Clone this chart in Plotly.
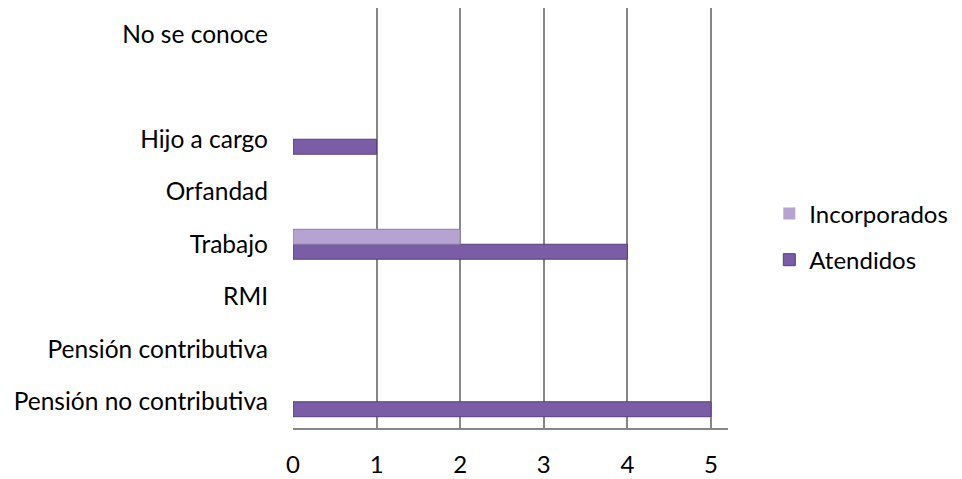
import plotly.graph_objects as go

categories = ["Pensión no contributiva", "Pensión contributiva", "RMI", "Trabajo",
              "Orfandad", "Hijo a cargo", " ", "No se conoce"]
atendidos = [5, 0, 0, 4, 0, 1, 0, 0]
incorporados = [0, 0, 0, 2, 0, 0, 0, 0]
x_ticks = [0, 1, 2, 3, 4, 5]


def edge_widths(values):
    return [1 if v > 0 else 0 for v in values]


fig = go.Figure()
fig.add_trace(go.Bar(
    y=categories, x=atendidos, orientation="h", name="Atendidos",
    legendgroup="b", legendrank=2,
    marker=dict(color="#7b5ca7",
                line=dict(color="#55407a", width=edge_widths(atendidos))),
))
fig.add_trace(go.Bar(
    y=categories, x=incorporados, orientation="h", name="Incorporados",
    legendgroup="a", legendrank=1,
    marker=dict(color="#b6a3d2",
                line=dict(color="#8d7ea6", width=edge_widths(incorporados))),
))

font = "Lato, 'Open Sans', sans-serif"
fig.update_layout(
    width=962, height=479,
    margin=dict(l=285, r=242, t=0, b=59),
    paper_bgcolor="white", plot_bgcolor="white",
    barmode="group", bargap=0.43, bargroupgap=0,
    font=dict(family=font, size=24, color="#000000"),
    showlegend=True,
    legend=dict(x=1.095, xanchor="left", y=0.455, yanchor="middle",
                traceorder="grouped", font=dict(size=24),
                tracegroupgap=12),
    xaxis=dict(range=[0, 5.203], tickvals=x_ticks, showgrid=True,
               gridcolor="#868686", gridwidth=1.5, zeroline=False,
               showline=True, linecolor="#868686", linewidth=1.5,
               ticks="", ticklabelstandoff=14, tickfont=dict(size=24)),
    yaxis=dict(range=[-0.5, 7.5], type="category", showgrid=False,
               zeroline=False, showline=False, ticks="",
               ticklabelstandoff=24, tickfont=dict(size=24.5)),
)

fig.write_html("out.html")
